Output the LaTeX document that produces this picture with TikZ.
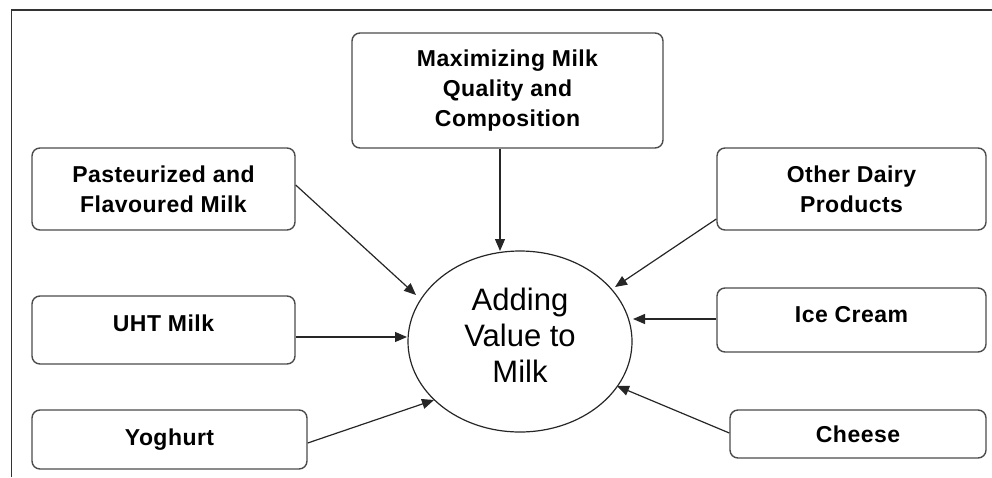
\documentclass[tikz,border=0pt]{standalone}
\usepackage{fontspec}
\setmainfont{Liberation Sans}
\usetikzlibrary{arrows.meta,shapes.geometric}
\begin{document}
\begin{tikzpicture}[x=1pt,y=-1pt,
  box/.style={draw=black!70, line width=1.4pt, rounded corners=8pt, fill=white,
    inner sep=0pt, align=center,
    font=\fontsize{23}{30}\selectfont\bfseries\addfontfeature{LetterSpace=2}},
  hub/.style={draw=black!85, line width=1.2pt, ellipse, inner sep=0pt},
  hubtext/.style={align=center, inner sep=0pt, font=\fontsize{31}{36}\selectfont},
  feed/.style={draw=black!85, line width=1.2pt, -{Triangle[length=12pt,width=10pt]}},
  frame/.style={draw=black!80, line width=1.8pt}]
\useasboundingbox (0,0) rectangle (992,477);
\coordinate (f1) at (11.5,477);
\coordinate (f2) at (11.5,10);
\coordinate (f3) at (992,10);
\draw[frame] (f1) -- (f2) -- (f3);

\node[hub, minimum width=224pt, minimum height=181pt] (hub) at (520,341.5) {};
\node[hubtext] (hubt) at (520,335.5) {Adding\\Value to\\Milk};

\node[box, minimum width=311pt, minimum height=115pt] (maxq) at (507.5,90.5)
  {Maximizing Milk\\Quality and\\Composition};
\node[box, minimum width=263pt, minimum height=82pt] (past) at (163.5,189)
  {Pasteurized and\\Flavoured Milk};
\node[box, minimum width=269pt, minimum height=82pt] (other) at (851.5,189)
  {Other Dairy\\Products};
\node[box, minimum width=263pt, minimum height=68pt] (uht) at (163.5,330)
  {\raisebox{13pt}{UHT Milk}};
\node[box, minimum width=275pt, minimum height=59pt] (yog) at (169.5,439.5)
  {\raisebox{4pt}{Yoghurt}};
\node[box, minimum width=269pt, minimum height=64pt] (ice) at (851.5,320)
  {\raisebox{12pt}{Ice Cream}};
\node[box, minimum width=256pt, minimum height=48pt] (chee) at (858,434)
  {Cheese};

\coordinate (tmax) at (500,251);
\coordinate (tpast) at (416,295);
\coordinate (tuht) at (407,337);
\coordinate (tyog) at (434,400);
\coordinate (toth) at (615,287);
\coordinate (tice) at (633,319);
\coordinate (tche) at (617,386);

\draw[feed] (maxq.south -| tmax) -- (tmax);
\draw[feed] (past.east |- 0,185) -- (tpast);
\draw[feed] (uht.east |- tuht) -- (tuht);
\draw[feed] (yog.east |- 0,443) -- (tyog);
\draw[feed] (other.west |- 0,219) -- (toth);
\draw[feed] (ice.west |- tice) -- (tice);
\draw[feed] (chee.west |- 0,433) -- (tche);
\end{tikzpicture}
\end{document}
